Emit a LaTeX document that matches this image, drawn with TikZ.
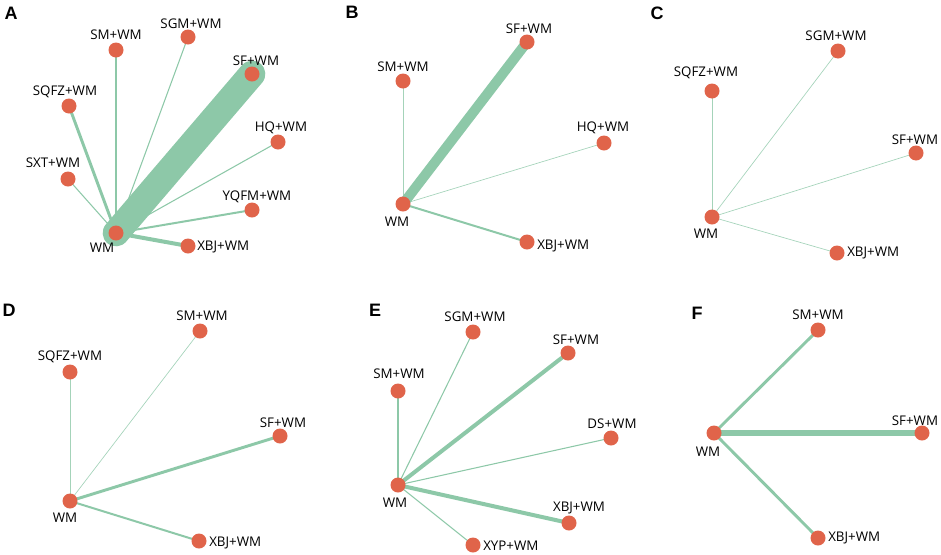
\documentclass[tikz,border=0pt]{standalone}
\usepackage{fontspec}
\setmainfont{Open Sans}
\newfontfamily\panelfont{Liberation Sans}
\usetikzlibrary{backgrounds}
\definecolor{edgegreen}{RGB}{141,200,168}
\definecolor{nodered}{RGB}{224,100,74}
\tikzset{
  trt/.style={circle,fill=nodered,draw=none,minimum size=11.25pt,inner sep=0pt},
  lbl/.style={font=\fontsize{10}{12}\selectfont,inner sep=0pt,text=black},
  lblr/.style={lbl,anchor=west},
  panel/.style={font=\panelfont\bfseries\fontsize{13.5}{15}\selectfont,inner sep=0pt},
  edge/.style={draw=edgegreen,line cap=round},
  e0/.style={edge,line width=0.5pt,draw opacity=0.8},
  e1/.style={edge,line width=0.8pt},
  e2/.style={edge,line width=1.5pt},
  e3/.style={edge,line width=2.2pt},
  e4/.style={edge,line width=3pt},
}
\begin{document}
\begin{tikzpicture}[x=0.75pt,y=-0.75pt]
\useasboundingbox (0,0) rectangle (941,554);
% ---------- Panel A ----------
\node[panel] (pA) at (11,13) {A};
\node[trt] (aWM) at (116,233) {};
\node[trt] (aSM) at (116,50) {};
\node[trt] (aSGM) at (188,37) {};
\node[trt] (aSF) at (252,74) {};
\node[trt] (aSQFZ) at (69,106) {};
\node[trt] (aHQ) at (278,142) {};
\node[trt] (aSXT) at (68,179) {};
\node[trt] (aYQFM) at (252,210) {};
\node[trt] (aXBJ) at (188,246) {};
\node[lbl] (aSMt) at (116,35) {SM+WM};
\node[lbl] (aSGMt) at (191,24) {SGM+WM};
\node[lbl] (aSFt) at (256,61) {SF+WM};
\node[lbl] (aSQFZt) at (65,92) {SQFZ+WM};
\node[lbl] (aHQt) at (281,128) {HQ+WM};
\node[lbl] (aSXTt) at (53,163) {SXT+WM};
\node[lbl] (aYQFMt) at (257,197) {YQFM+WM};
\node[lbl] (aWMt) at (102,248) {WM};
\node[lblr] (aXBJt) at (197,247) {XBJ+WM};
\begin{scope}[on background layer]
\draw[edge,line width=20pt] (aWM.center) -- (aSF.center);
\draw[e3] (aWM.center) -- (aSM.center);
\draw[e1] (aWM.center) -- (aSGM.center);
\draw[e3] (aWM.center) -- (aSQFZ.center);
\draw[e1] (aWM.center) -- (aHQ.center);
\draw[e1] (aWM.center) -- (aSXT.center);
\draw[e2] (aWM.center) -- (aYQFM.center);
\draw[e4] (aWM.center) -- (aXBJ.center);
\end{scope}
% ---------- Panel B ----------
\node[panel] (pB) at (352,12) {B};
\node[trt] (bWM) at (403,204) {};
\node[trt] (bSF) at (527,42) {};
\node[trt] (bSM) at (403,81) {};
\node[trt] (bHQ) at (604,143) {};
\node[trt] (bXBJ) at (527,242) {};
\node[lbl] (bSFt) at (529,29) {SF+WM};
\node[lbl] (bSMt) at (403,67) {SM+WM};
\node[lbl] (bHQt) at (603,128) {HQ+WM};
\node[lbl] (bWMt) at (397,222) {WM};
\node[lblr] (bXBJt) at (537,246) {XBJ+WM};
\begin{scope}[on background layer]
\draw[edge,line width=7.5pt] (bWM.center) -- (bSF.center);
\draw[e0] (bWM.center) -- (bSM.center);
\draw[e0] (bWM.center) -- (bHQ.center);
\draw[e2] (bWM.center) -- (bXBJ.center);
\end{scope}
% ---------- Panel C ----------
\node[panel] (pC) at (657,13) {C};
\node[trt] (cWM) at (712,217) {};
\node[trt] (cSGM) at (838,51) {};
\node[trt] (cSQFZ) at (712,91) {};
\node[trt] (cSF) at (916,153) {};
\node[trt] (cXBJ) at (837,253) {};
\node[lbl] (cSGMt) at (836,36) {SGM+WM};
\node[lbl] (cSQFZt) at (706,73) {SQFZ+WM};
\node[lbl] (cSFt) at (915,140) {SF+WM};
\node[lbl] (cWMt) at (706,234) {WM};
\node[lblr] (cXBJt) at (847,253) {XBJ+WM};
\begin{scope}[on background layer]
\draw[e0] (cWM.center) -- (cSGM.center);
\draw[e0] (cWM.center) -- (cSQFZ.center);
\draw[e0] (cWM.center) -- (cSF.center);
\draw[e0] (cWM.center) -- (cXBJ.center);
\end{scope}
% ---------- Panel D ----------
\node[panel] (pD) at (9,310) {D};
\node[trt] (dWM) at (70,501) {};
\node[trt] (dSM) at (200,331) {};
\node[trt] (dSQFZ) at (70,372) {};
\node[trt] (dSF) at (280,436) {};
\node[trt] (dXBJ) at (199,541) {};
\node[lbl] (dSMt) at (202,316) {SM+WM};
\node[lbl] (dSQFZt) at (70,357) {SQFZ+WM};
\node[lbl] (dSFt) at (283,423) {SF+WM};
\node[lbl] (dWMt) at (65,518) {WM};
\node[lblr] (dXBJt) at (209,543) {XBJ+WM};
\begin{scope}[on background layer]
\draw[e0] (dWM.center) -- (dSM.center);
\draw[e0] (dWM.center) -- (dSQFZ.center);
\draw[e3] (dWM.center) -- (dSF.center);
\draw[e2] (dWM.center) -- (dXBJ.center);
\end{scope}
% ---------- Panel E ----------
\node[panel] (pE) at (375,310) {E};
\node[trt] (eWM) at (398,485) {};
\node[trt] (eSGM) at (473,332) {};
\node[trt] (eSF) at (568,353) {};
\node[trt] (eSM) at (398,391) {};
\node[trt] (eDS) at (611,438) {};
\node[trt] (eXBJ) at (569,523) {};
\node[trt] (eXYP) at (473,545) {};
\node[lbl] (eSGMt) at (475,317) {SGM+WM};
\node[lbl] (eSFt) at (576,340) {SF+WM};
\node[lbl] (eSMt) at (399,374) {SM+WM};
\node[lbl] (eDSt) at (612,424) {DS+WM};
\node[lbl] (eWMt) at (395,503) {WM};
\node[lbl] (eXBJt) at (579,508) {XBJ+WM};
\node[lblr] (eXYPt) at (483,546) {XYP+WM};
\begin{scope}[on background layer]
\draw[e1] (eWM.center) -- (eSGM.center);
\draw[e4] (eWM.center) -- (eSF.center);
\draw[e2] (eWM.center) -- (eSM.center);
\draw[e1] (eWM.center) -- (eDS.center);
\draw[e4] (eWM.center) -- (eXBJ.center);
\draw[e1] (eWM.center) -- (eXYP.center);
\end{scope}
% ---------- Panel F ----------
\node[panel] (pF) at (697,313) {F};
\node[trt] (fWM) at (714,433) {};
\node[trt] (fSM) at (818,330) {};
\node[trt] (fSF) at (922,433) {};
\node[trt] (fXBJ) at (818,538) {};
\node[lbl] (fSMt) at (818,315) {SM+WM};
\node[lbl] (fSFt) at (915,421) {SF+WM};
\node[lbl] (fWMt) at (708,452) {WM};
\node[lblr] (fXBJt) at (828,538) {XBJ+WM};
\begin{scope}[on background layer]
\draw[e3] (fWM.center) -- (fSM.center);
\draw[edge,line width=4pt] (fWM.center) -- (fSF.center);
\draw[e3] (fWM.center) -- (fXBJ.center);
\end{scope}
\end{tikzpicture}
\end{document}
